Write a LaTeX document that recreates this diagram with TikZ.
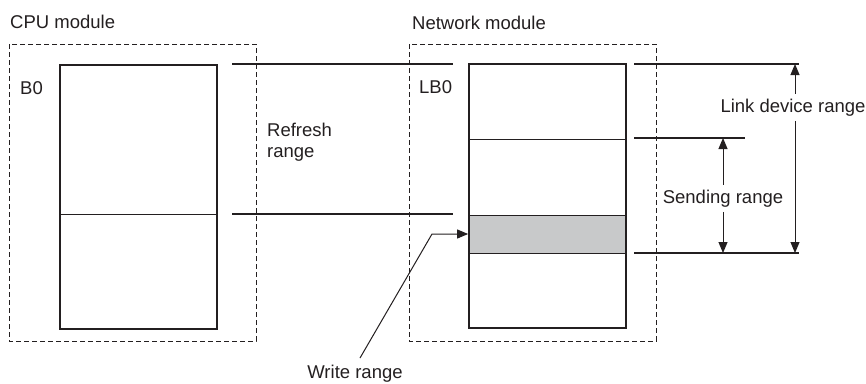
\documentclass[tikz,border=0pt]{standalone}
\usepackage{fontspec}
\setmainfont{Liberation Sans}
\usetikzlibrary{arrows.meta}
\definecolor{ink}{RGB}{35,31,32}
\definecolor{band}{RGB}{200,201,202}
\begin{document}
\begin{tikzpicture}[x=1pt,y=-1pt,
  font=\fontsize{18.5}{21}\selectfont, text=ink,
  modbox/.style={draw=ink, line width=0.9pt, dash pattern=on 5pt off 3pt},
  blk/.style={draw=ink, line width=1.7pt, minimum width=157pt, minimum height=264pt, inner sep=0pt},
  thin/.style={draw=ink, line width=1pt},
  thick/.style={draw=ink, line width=1.7pt},
  lab/.style={inner sep=0pt},
  rlab/.style={inner sep=0pt, outer sep=5pt},
  tip/.style={-{Triangle[length=11pt,width=9pt]}, draw=ink, line width=1pt}
]
\useasboundingbox (0,0) rectangle (866,383);

% module frames
\draw[modbox] (9,44) rectangle (256,341);
\draw[modbox] (409,44) rectangle (656,341);
\node[lab, anchor=base west] (cpulab) at (10,28) {CPU module};
\node[lab, anchor=base west] (netlab) at (412,29) {Network module};

% CPU block
\node[blk] (cpu) at (138.5,197) {};
\draw[thin] (cpu.west |- 0,214) -- (cpu.east |- 0,214);
\node[lab, anchor=base west] (b0) at (20,94) {B0};

% Network block
\fill[band] (469,215) rectangle (626,253);
\node[blk] (net) at (547.5,196) {};
\draw[thin] (net.west |- 0,139) -- (net.east |- 0,139);
\draw[thin] (net.west |- 0,215) -- (net.east |- 0,215);
\draw[thin] (net.west |- 0,253) -- (net.east |- 0,253);
\node[lab, anchor=base west] (lb0) at (419,93) {LB0};

% refresh range
\coordinate (r1a) at (232,64); \coordinate (r1b) at (453,64);
\coordinate (r2a) at (232,214); \coordinate (r2b) at (453,214);
\draw[thick] (r1a) -- (r1b);
\draw[thick] (r2a) -- (r2b);
\node[lab, anchor=base west] (refr) at (267,136) {Refresh};
\node[lab, anchor=base west] (refr2) at (267,157) {range};

% right range lines
\coordinate (t1) at (634,64); \coordinate (t2) at (799,64);
\coordinate (m1) at (634,138); \coordinate (m2) at (745,138);
\coordinate (b1) at (634,253); \coordinate (b2) at (799,253);
\draw[thick] (t1) -- (t2);
\draw[thick] (m1) -- (m2);
\draw[thick] (b1) -- (b2);

% link device range
\node[rlab, anchor=base] (ldr) at (793,112) {Link device range};
\coordinate (ldtop) at (795,64); \coordinate (ldbot) at (795,253);
\draw[tip] (ldr.north -| ldtop) -- (ldtop);
\draw[tip] (ldr.south -| ldbot) -- (ldbot);

% sending range
\node[rlab, anchor=base] (snd) at (723,203) {Sending range};
\coordinate (sdtop) at (723,138); \coordinate (sdbot) at (723,253);
\draw[tip] (snd.north -| sdtop) -- (sdtop);
\draw[tip] (snd.south -| sdbot) -- (sdbot);

% write range
\node[lab, anchor=base] (wr) at (355,378) {Write range};
\coordinate (wstart) at (360,358);
\coordinate (wknee) at (432,234);
\draw[tip] (wstart) -- (wknee) -- (net.west |- wknee);
\end{tikzpicture}
\end{document}
